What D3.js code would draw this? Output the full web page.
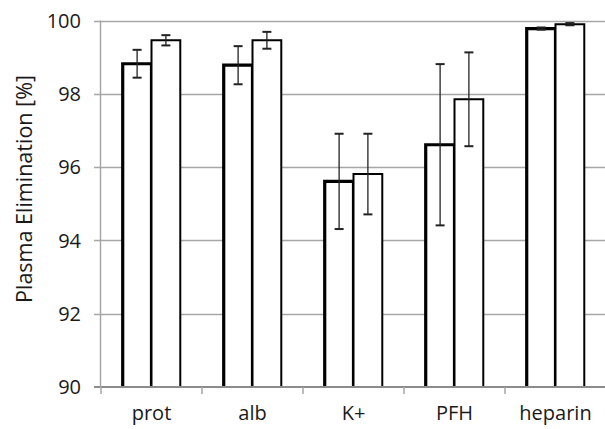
<!DOCTYPE html>
<html>
  <head>
    <meta charset="utf-8">
    <title>Plasma Elimination</title>
    <script src="https://d3js.org/d3.v7.min.js"></script>
    <style>
      body { margin: 0; background: #fff; }
      text { font-family: "Open Sans", sans-serif; fill: #1a1a1a; }
    </style>
  </head>
  <body>
    <div id="chart"></div>
    <script>
      // chart data
      const categories = ["prot", "alb", "K+", "PFH", "heparin"];
      const seriesA = [98.82, 98.78, 95.61, 96.61, 99.78];   // thick outline bars
      const errorsA = [0.38, 0.52, 1.3, 2.2, 0.03];
      const seriesB = [99.46, 99.46, 95.81, 97.85, 99.90];   // thin outline bars
      const errorsB = [0.14, 0.23, 1.1, 1.28, 0.03];
      const yTicks = [90, 92, 94, 96, 98, 100];

      const width = 605;
      const height = 429;
      const margin = {top: 20.5, right: -1, bottom: 42, left: 101};

      const svg = d3.select("#chart")
        .append("svg")
        .attr("width", width)
        .attr("height", height);

      const x = d3.scaleBand()
        .domain(categories)
        .range([margin.left, width - margin.right]);

      const y = d3.scaleLinear()
        .domain([90, 100])
        .range([height - margin.bottom, margin.top]);

      const barW = x.bandwidth() * 0.285;

      // y tick labels
      svg.append("g")
        .selectAll("text")
        .data(yTicks)
        .join("text")
        .attr("x", 81)
        .attr("y", d => y(d))
        .attr("dy", "0.36em")
        .attr("text-anchor", "end")
        .style("font-size", "20px")
        .text(d => d);

      // x labels
      svg.append("g")
        .selectAll("text")
        .data(categories)
        .join("text")
        .attr("x", d => x(d) + x.bandwidth() / 2)
        .attr("y", 420)
        .attr("text-anchor", "middle")
        .style("font-size", "20px")
        .text(d => d);

      // y axis title
      svg.append("text")
        .attr("transform", "translate(32,189) rotate(-90)")
        .attr("text-anchor", "middle")
        .style("font-size", "21.5px")
        .text("Plasma Elimination [%]");

      function drawSeries(values, errors, offset, strokeW) {
        const g = svg.append("g");
        const left = (d, i) => x(categories[i]) + x.bandwidth() / 2 + offset;
        // outline open at the bottom, the baseline closes it
        g.selectAll("path")
          .data(values)
          .join("path")
          .attr("d", (d, i) => {
            const x0 = left(d, i), x1 = x0 + barW;
            return "M" + x0 + "," + y(90) + "V" + y(d) + "H" + x1 + "V" + y(90);
          })
          .attr("fill", "#fff")
          .attr("stroke", "#000")
          .attr("stroke-width", strokeW);

        const cx = (d, i) => left(d, i) + barW / 2;
        g.selectAll("line.err")
          .data(values)
          .join("line")
          .attr("class", "err")
          .attr("x1", cx)
          .attr("x2", cx)
          .attr("y1", (d, i) => y(d + errors[i]))
          .attr("y2", (d, i) => y(d - errors[i]))
          .attr("stroke", "#222")
          .attr("stroke-width", 1.3);
        ["top", "bot"].forEach(k => {
          g.selectAll("line.cap-" + k)
            .data(values)
            .join("line")
            .attr("class", "cap-" + k)
            .attr("x1", (d, i) => cx(d, i) - 4.5)
            .attr("x2", (d, i) => cx(d, i) + 4.5)
            .attr("y1", (d, i) => y(k === "top" ? d + errors[i] : d - errors[i]))
            .attr("y2", (d, i) => y(k === "top" ? d + errors[i] : d - errors[i]))
            .attr("stroke", "#222")
            .attr("stroke-width", 2);
        });
      }

      // gridlines (they also form the y tick marks), behind the bars
      svg.append("g")
        .selectAll("line")
        .data(yTicks.filter(d => d !== 90))
        .join("line")
        .attr("x1", margin.left - 7)
        .attr("x2", width)
        .attr("y1", d => Math.round(y(d)) + 0.5)
        .attr("y2", d => Math.round(y(d)) + 0.5)
        .attr("stroke", "#a6a6a6")
        .attr("stroke-width", 1.5);

      drawSeries(seriesA, errorsA, -barW, 3.2);
      drawSeries(seriesB, errorsB, 0, 2);

      // baseline drawn over the bar bottoms
      svg.append("line")
        .attr("x1", margin.left - 7)
        .attr("x2", width)
        .attr("y1", y(90))
        .attr("y2", y(90))
        .attr("stroke", "#8c8c8c")
        .attr("stroke-width", 2);

      // y axis line
      svg.append("line")
        .attr("x1", margin.left - 0.5)
        .attr("x2", margin.left - 0.5)
        .attr("y1", y(100))
        .attr("y2", y(90))
        .attr("stroke", "#a6a6a6")
        .attr("stroke-width", 1.5);

      // category ticks under the baseline
      const catEdges = categories.map(c => x(c)).concat([x(categories[4]) + x.bandwidth()]);
      svg.append("g")
        .selectAll("line")
        .data(catEdges)
        .join("line")
        .attr("x1", d => d)
        .attr("x2", d => d)
        .attr("y1", y(90))
        .attr("y2", y(90) + 7)
        .attr("stroke", "#a6a6a6")
        .attr("stroke-width", 1.5);
    </script>
  </body>
</html>
